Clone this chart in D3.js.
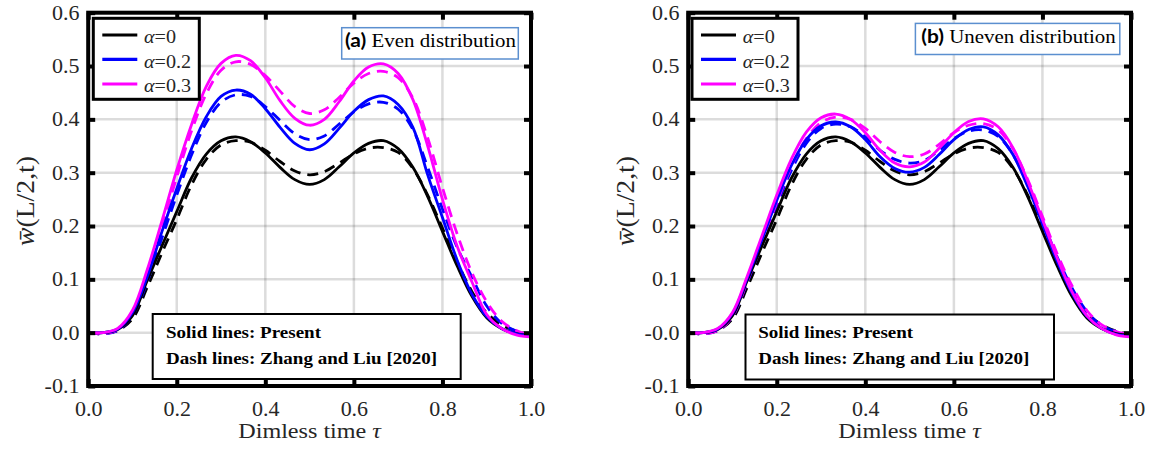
<!DOCTYPE html>
<html>
<head>
<meta charset="utf-8">
<script src="https://cdn.jsdelivr.net/npm/d3@7"></script>
<style>
  body { margin: 0; background: #fff; }
  svg { display: block; }
  .serif { font-family: "Liberation Serif", "DejaVu Serif", serif; }
  .sansb { font-family: Lato, "Liberation Sans", sans-serif; font-weight: bold; }
</style>
</head>
<body>
<svg id="chart" width="1150" height="456"></svg>
<script>
// ---------------- DATA ----------------
const tau = [0.0000, 0.0333, 0.0667, 0.1000, 0.1333, 0.1667, 0.2000, 0.2333, 0.2667, 0.3000,
             0.3333, 0.3667, 0.4000, 0.4333, 0.4667, 0.5000, 0.5333, 0.5667, 0.6000, 0.6333,
             0.6667, 0.7000, 0.7333, 0.7667, 0.8000, 0.8333, 0.8667, 0.9000, 0.9333, 0.9667, 1.0000];

const seriesNames = ["α=0", "α=0.2", "α=0.3"];
const alphaValues = ["0", "0.2", "0.3"];

// (a) Even distribution
const evenPresentA0  = [0.000, 0.000, 0.006, 0.032, 0.098, 0.163, 0.227, 0.290, 0.335, 0.360, 0.367, 0.358, 0.337, 0.310, 0.287, 0.278, 0.287, 0.311, 0.337, 0.355, 0.360, 0.345, 0.310, 0.255, 0.190, 0.125, 0.068, 0.028, 0.008, -0.002, -0.005];
const evenZhangA0    = [0.000, -0.002, 0.004, 0.026, 0.085, 0.150, 0.212, 0.277, 0.325, 0.352, 0.360, 0.357, 0.342, 0.321, 0.303, 0.296, 0.302, 0.318, 0.335, 0.346, 0.347, 0.338, 0.308, 0.258, 0.196, 0.133, 0.077, 0.037, 0.015, 0.003, -0.003];
const evenPresentA02 = [0.000, 0.000, 0.007, 0.038, 0.105, 0.190, 0.270, 0.345, 0.405, 0.443, 0.455, 0.447, 0.420, 0.385, 0.355, 0.343, 0.354, 0.383, 0.415, 0.437, 0.444, 0.428, 0.385, 0.296, 0.216, 0.136, 0.072, 0.030, 0.008, -0.002, -0.006];
const evenZhangA02   = [0.000, -0.002, 0.004, 0.032, 0.095, 0.178, 0.258, 0.333, 0.394, 0.432, 0.446, 0.443, 0.424, 0.398, 0.373, 0.362, 0.369, 0.391, 0.414, 0.429, 0.432, 0.419, 0.381, 0.310, 0.232, 0.160, 0.104, 0.050, 0.018, 0.003, -0.005];
const evenPresentA03 = [0.000, 0.000, 0.008, 0.042, 0.118, 0.210, 0.305, 0.390, 0.462, 0.505, 0.520, 0.510, 0.478, 0.435, 0.402, 0.389, 0.400, 0.433, 0.472, 0.498, 0.504, 0.486, 0.437, 0.350, 0.250, 0.162, 0.095, 0.034, 0.008, -0.004, -0.008];
const evenZhangA03   = [0.000, -0.002, 0.005, 0.036, 0.108, 0.198, 0.292, 0.378, 0.448, 0.492, 0.508, 0.503, 0.482, 0.453, 0.424, 0.411, 0.418, 0.441, 0.468, 0.486, 0.490, 0.478, 0.440, 0.365, 0.272, 0.185, 0.112, 0.058, 0.022, 0.004, -0.006];

// (b) Uneven distribution
const unevenPresentA0  = [0.000, 0.000, 0.006, 0.032, 0.098, 0.163, 0.227, 0.290, 0.335, 0.360, 0.367, 0.358, 0.337, 0.310, 0.287, 0.278, 0.287, 0.311, 0.337, 0.355, 0.360, 0.345, 0.310, 0.255, 0.190, 0.125, 0.068, 0.028, 0.008, -0.002, -0.005];
const unevenZhangA0    = [0.000, -0.002, 0.004, 0.026, 0.085, 0.150, 0.212, 0.277, 0.325, 0.352, 0.360, 0.357, 0.342, 0.321, 0.303, 0.296, 0.302, 0.318, 0.335, 0.346, 0.347, 0.338, 0.308, 0.258, 0.196, 0.133, 0.077, 0.037, 0.015, 0.003, -0.003];
const unevenPresentA02 = [0.000, 0.000, 0.007, 0.036, 0.102, 0.175, 0.248, 0.314, 0.362, 0.388, 0.395, 0.386, 0.362, 0.330, 0.308, 0.301, 0.310, 0.334, 0.362, 0.381, 0.386, 0.371, 0.334, 0.274, 0.204, 0.134, 0.074, 0.031, 0.008, -0.003, -0.006];
const unevenZhangA02   = [0.000, -0.002, 0.004, 0.030, 0.094, 0.166, 0.238, 0.305, 0.355, 0.383, 0.391, 0.386, 0.367, 0.342, 0.325, 0.318, 0.323, 0.342, 0.364, 0.378, 0.380, 0.368, 0.334, 0.278, 0.210, 0.142, 0.084, 0.040, 0.014, 0.002, -0.004];
const unevenPresentA03 = [0.000, 0.000, 0.008, 0.038, 0.106, 0.182, 0.258, 0.326, 0.376, 0.403, 0.410, 0.400, 0.375, 0.342, 0.318, 0.311, 0.320, 0.346, 0.375, 0.396, 0.401, 0.386, 0.347, 0.284, 0.212, 0.140, 0.077, 0.032, 0.008, -0.004, -0.008];
const unevenZhangA03   = [0.000, -0.002, 0.004, 0.031, 0.096, 0.170, 0.244, 0.312, 0.364, 0.394, 0.404, 0.400, 0.383, 0.358, 0.338, 0.330, 0.335, 0.353, 0.375, 0.389, 0.392, 0.380, 0.345, 0.287, 0.218, 0.148, 0.088, 0.042, 0.015, 0.002, -0.004];

const xTicks = [0, 0.2, 0.4, 0.6, 0.8, 1.0];
const xTickLabels = ["0.0", "0.2", "0.4", "0.6", "0.8", "1.0"];
const yTicks = [-0.1, 0, 0.1, 0.2, 0.3, 0.4, 0.5, 0.6];
const yTickLabelsA = ["-0.1", "0.0", "0.1", "0.2", "0.3", "0.4", "0.5", "0.6"];
const yTickLabelsB = ["-0.1", "-0.0", "0.1", "0.2", "0.3", "0.4", "0.5", "0.6"];

const panelTags = ["(a)", "(b)"];
const panelTitles = ["Even distribution", "Uneven distribution"];
const noteLines = ["Solid lines: Present", "Dash lines: Zhang and Liu [2020]"];

// ---------------- DRAW ----------------
const colors = ["#000000", "#0000ff", "#ff00ff"];
const svg = d3.select("#chart");

const yTop = 12.7, yBot = 386;
const y = d3.scaleLinear().domain([-0.1, 0.6]).range([yBot, yTop]);

const panels = [
  { x0: 88.2, x1: 531,
    present: [evenPresentA0, evenPresentA02, evenPresentA03],
    zhang: [evenZhangA0, evenZhangA02, evenZhangA03],
    yLabels: yTickLabelsA,
    legend: [93.3, 18.3],
    annot: { x: 341.7, y: 27.7, w: 176.6, h: 31.3, tx: 345, ty: 47 },
    note: { x: 152.7, y: 314, w: 308, h: 65, tx: 166 },
    yTitleX: 34 },
  { x0: 688.2, x1: 1131,
    present: [unevenPresentA0, unevenPresentA02, unevenPresentA03],
    zhang: [unevenZhangA0, unevenZhangA02, unevenZhangA03],
    yLabels: yTickLabelsB,
    legend: [692, 18.3],
    annot: { x: 915.4, y: 23.4, w: 204.4, h: 31.1, tx: 921.2, ty: 42.7 },
    note: { x: 745.5, y: 314.5, w: 308.5, h: 65, tx: 758.2 },
    yTitleX: 634 }
];

function stretchedText(parent, x, yy, sx) {
  return parent.append("g")
    .attr("transform", `translate(${x},${yy}) scale(${sx},1)`)
    .append("text");
}

panels.forEach((p, pi) => {
  const g = svg.append("g");
  const x = d3.scaleLinear().domain([0, 1]).range([p.x0, p.x1]);

  // grid
  const grid = g.append("g").attr("stroke", "#262626").attr("stroke-opacity", 0.16).attr("stroke-width", 2.5);
  grid.selectAll("line.gx").data(xTicks).join("line")
    .attr("x1", d => x(d)).attr("x2", d => x(d)).attr("y1", yTop).attr("y2", yBot);
  grid.selectAll("line.gy").data(yTicks).join("line")
    .attr("x1", p.x0).attr("x2", p.x1).attr("y1", d => y(d)).attr("y2", d => y(d));

  // curves
  const line = d3.line().x((d, i) => x(tau[i])).y(d => y(d)).curve(d3.curveCatmullRom.alpha(0.5));
  p.zhang.forEach((s, k) => {
    g.append("path").datum(s).attr("d", line)
      .attr("fill", "none").attr("stroke", colors[k]).attr("stroke-width", 2.8)
      .attr("stroke-dasharray", "11,7");
  });
  p.present.forEach((s, k) => {
    g.append("path").datum(s).attr("d", line)
      .attr("fill", "none").attr("stroke", colors[k]).attr("stroke-width", 2.8);
  });

  // axes (inner ticks on all sides)
  const styleAxis = sel => {
    sel.select(".domain").remove();
    sel.selectAll(".tick line").attr("stroke", "#000").attr("stroke-width", 4);
  };
  const gx = g.append("g").attr("transform", `translate(0,${yBot})`)
    .call(d3.axisBottom(x).tickValues(xTicks).tickFormat((d, i) => xTickLabels[i])
      .tickSizeInner(-7).tickSizeOuter(0).tickPadding(16))
    .call(styleAxis);
  gx.attr("font-family", null).attr("font-size", null);
  gx.selectAll(".tick text").attr("class", "serif").style("font-size", "20px")
    .attr("fill", "#262626").attr("transform", "scale(1.1,1)");

  const gy = g.append("g").attr("transform", `translate(${p.x0},0)`)
    .call(d3.axisLeft(y).tickValues(yTicks).tickFormat((d, i) => p.yLabels[i])
      .tickSizeInner(-7).tickSizeOuter(0).tickPadding(8))
    .call(styleAxis);
  gy.attr("font-family", null).attr("font-size", null);
  gy.selectAll(".tick text").attr("class", "serif").style("font-size", "20px")
    .attr("fill", "#262626").attr("transform", "scale(1.1,1)");

  g.append("g").attr("transform", `translate(0,${yTop})`)
    .call(d3.axisTop(x).tickValues(xTicks).tickFormat("").tickSizeInner(-7).tickSizeOuter(0))
    .call(styleAxis);
  g.append("g").attr("transform", `translate(${p.x1},0)`)
    .call(d3.axisRight(y).tickValues(yTicks).tickFormat("").tickSizeInner(-7).tickSizeOuter(0))
    .call(styleAxis);

  // frame
  g.append("rect").attr("x", p.x0).attr("y", yTop).attr("width", p.x1 - p.x0).attr("height", yBot - yTop)
    .attr("fill", "none").attr("stroke", "#000").attr("stroke-width", 4);

  // legend
  const [lx, ly] = p.legend;
  g.append("rect").attr("x", lx).attr("y", ly).attr("width", 106).attr("height", 81)
    .attr("fill", "#fff").attr("stroke", "#000").attr("stroke-width", 3);
  const rows = [16.7, 41, 65.7];
  seriesNames.forEach((nm, k) => {
    g.append("line").attr("x1", lx + 9).attr("x2", lx + 44)
      .attr("y1", ly + rows[k]).attr("y2", ly + rows[k])
      .attr("stroke", colors[k]).attr("stroke-width", 3.2);
    const t = stretchedText(g, lx + 50.7, ly + rows[k] + 8.3, 1.12)
      .attr("class", "serif").style("font-size", "18px").attr("fill", "#262626");
    t.append("tspan").style("font-style", "italic").text("α");
    t.append("tspan").text("=" + alphaValues[k]);
  });

  // panel annotation
  const a = p.annot;
  g.append("rect").attr("x", a.x).attr("y", a.y).attr("width", a.w).attr("height", a.h)
    .attr("fill", "#fff").attr("stroke", "#5b8fcf").attr("stroke-width", 1.5);
  const at = stretchedText(g, a.tx, a.ty, 1.13).style("font-size", "18.5px").attr("fill", "#000");
  at.append("tspan").attr("class", "sansb").text(panelTags[pi]);
  at.append("tspan").attr("class", "serif").text(" " + panelTitles[pi]);

  // solid/dash note
  const n = p.note;
  g.append("rect").attr("x", n.x).attr("y", n.y).attr("width", n.w).attr("height", n.h)
    .attr("fill", "#fff").attr("stroke", "#000").attr("stroke-width", 2);
  noteLines.forEach((txt, k) => {
    stretchedText(g, n.tx, 337.8 + k * 26, 1.12)
      .attr("class", "serif").style("font-size", "17px").style("font-weight", "bold")
      .attr("fill", "#000").text(txt);
  });

  // axis titles
  const xt = stretchedText(g, (p.x0 + p.x1) / 2, 438, 1.15)
    .attr("class", "serif").style("font-size", "21px").attr("text-anchor", "middle").attr("fill", "#262626");
  xt.append("tspan").text("Dimless time ");
  xt.append("tspan").style("font-style", "italic").text("τ");

  const yt = g.append("g").attr("transform", `translate(${p.yTitleX},201) rotate(-90) scale(1,1.12)`)
    .append("text").attr("class", "serif").style("font-size", "23px").attr("text-anchor", "middle")
    .attr("fill", "#262626").attr("textLength", 90).attr("lengthAdjust", "spacingAndGlyphs");
  yt.append("tspan").style("font-style", "italic").text("w\u0304");
  yt.append("tspan").text("(L/2,t)");
});
</script>
</body>
</html>
